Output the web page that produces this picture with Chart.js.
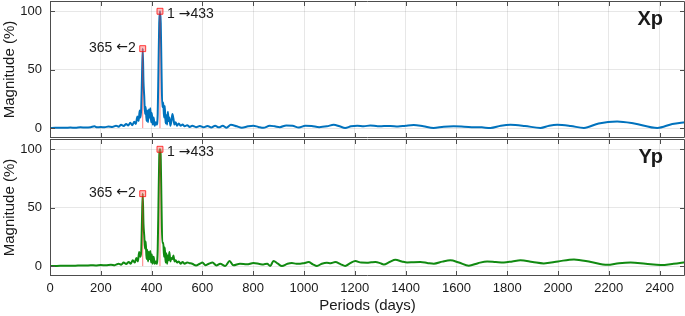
<!DOCTYPE html>
<html>
<head>
<meta charset="utf-8">
<script src="https://cdn.jsdelivr.net/npm/chart.js@4/dist/chart.umd.min.js"></script>
<style>
  html, body { margin: 0; padding: 0; background: #fff; }
  #wrap { position: relative; width: 685px; height: 316px; }
  canvas { position: absolute; left: 0; }
  #xpChart { top: 0; }
  #ypChart { top: 138px; }
</style>
</head>
<body>
<div id="wrap">
  <canvas id="xpChart" width="685" height="139"></canvas>
  <canvas id="ypChart" width="685" height="178"></canvas>
</div>
<script>
// tick labels
const xTicks = [0, 200, 400, 600, 800, 1000, 1200, 1400, 1600, 1800, 2000, 2200, 2400];
const yTicks = [0, 50, 100];

// Xp spectrum (period in days, magnitude in %)
const xpPeriods = [0, 20, 40, 60, 80, 100, 120, 140, 160, 175, 185, 200, 215, 230, 245, 260, 270, 280, 290, 300,
  308, 316, 324, 332, 338, 344, 349, 353, 356, 359, 362, 365, 368, 371, 374, 377, 380, 383, 386, 389, 392,
  395, 398, 401, 404, 408, 412, 416, 420, 424, 427, 430, 433, 436, 439, 442, 446, 449, 452, 455, 458, 461,
  464, 467, 470, 474, 478, 482, 486, 490, 495, 500, 507, 514, 522, 530, 540, 550, 560, 575, 590, 605,
  620, 635, 650, 665, 680, 695, 712, 735, 755, 780, 800, 820, 840, 865, 885, 905, 930, 955, 980, 1005,
  1030, 1060, 1090, 1117, 1140, 1162, 1185, 1210, 1235, 1261, 1290, 1315, 1340, 1370, 1400, 1432, 1470, 1510, 1550, 1589,
  1630, 1668, 1700, 1734, 1775, 1813, 1870, 1931, 1965, 1997, 2050, 2102, 2160, 2233, 2300, 2391, 2450, 2502];
const xpMag = [0, 0.2, 0.3, 0.2, 0.4, 0.3, 0.6, 0.5, 0.8, 1.5, 0.6, 0.9, 0.7, 1.3, 1.0, 2.0, 1.2, 2.8, 1.8, 3.5,
  2.2, 4.5, 2.5, 5.5, 3.5, 10, 6, 15, 9, 16, 42, 68, 40, 27, 12, 18, 6, 15, 5, 16, 9,
  17, 5, 13, 3, 9, 2, 5, 3, 12, 50, 90, 100, 90, 50, 18, 22, 9, 19, 4, 11, 3,
  14, 6, 9, 2, 6, 12, 8, 3, 5, 2, 4, 2, 3, 1.5, 2.5, 1, 2, 0.8, 1.8, 0.6,
  1.8, 0.5, 2, 0.6, 2, 0.3, 2.8, 1.5, 0.3, 1.5, 2, 1, 0.2, 2, 1.5, 0.8, 2.3, 2, 0.5, 2,
  1.8, 0.8, 1.5, 2.8, 1.5, 0.1, 1.5, 2, 1.5, 2.3, 1.5, 1.7, 1.8, 1.3, 2, 2.6, 1.5, 0.1, 1.2, 1.5,
  1.2, 0.8, 0.6, 0.1, 2, 2.8, 1.8, 0.1, 2, 2.8, 1.8, 0.1, 4, 5.7, 4, 0.1, 3.5, 5.1];

// Yp spectrum
const ypPeriods = [0, 20, 40, 60, 80, 100, 120, 140, 160, 180, 200, 220, 240, 255, 270, 280, 290, 300, 310, 318,
  326, 334, 340, 346, 351, 355, 359, 362, 365, 368, 371, 374, 377, 380, 383, 386, 389, 392, 395, 398, 401,
  404, 408, 412, 416, 420, 424, 427, 430, 433, 436, 439, 442, 446, 449, 452, 455, 458, 461, 464, 467, 470,
  474, 478, 482, 486, 490, 495, 500, 507, 514, 522, 530, 540, 550, 560, 575, 590, 600, 612, 625, 640,
  655, 670, 690, 707, 722, 748, 775, 801, 825, 840, 855, 867, 880, 897, 913, 935, 952, 970, 985, 1000,
  1018, 1035, 1051, 1070, 1090, 1105, 1123, 1145, 1162, 1182, 1202, 1225, 1248, 1265, 1281, 1300, 1314, 1337, 1360, 1385,
  1406, 1432, 1458, 1485, 1511, 1545, 1576, 1610, 1649, 1685, 1721, 1755, 1787, 1820, 1852, 1900, 1944, 2000, 2063, 2130,
  2194, 2240, 2286, 2345, 2404, 2455, 2502];
const ypMag = [0, 0.1, 0.2, 0.2, 0.3, 0.3, 0.5, 0.4, 0.7, 0.5, 0.9, 0.7, 1.2, 0.8, 2, 1.2, 3, 1.8, 3.5, 2,
  5, 3, 7, 4, 12, 8, 12, 38, 62, 36, 26, 15, 21, 6, 14, 4, 12, 6, 13, 3, 10,
  2, 8, 2, 4, 2, 14, 52, 92, 100, 92, 52, 20, 20, 8, 16, 3, 11, 2, 9, 5, 12,
  4, 7, 6, 9, 4, 5, 3, 4, 2, 3.5, 2, 3, 2.5, 2, 0.5, 2, 3, 0.8, 2, 3,
  0.5, 2, 0.1, 4.3, 0.6, 2, 1.5, 2.6, 1.8, 1.4, 2, 0.1, 4.3, 2, 0.1, 2, 2.6, 2, 2, 2.5,
  3.4, 1.5, 0.1, 2, 2.9, 2.5, 3.4, 1.5, 0.1, 2.5, 4.3, 3, 2.9, 3.2, 3.4, 2.5, 1.4, 3.5, 5.4, 4,
  3.1, 3.3, 3.4, 2.7, 2, 3.8, 4.9, 3, 0.3, 2.5, 4, 3.5, 3.1, 4, 4.9, 3.5, 2.3, 4, 5.7, 3.5,
  1.1, 2.5, 3.1, 2, 0.9, 2, 3.4];

// marked peaks: period (days); label pieces "365 <-2" and "1 ->433"
const peakPeriods = [365, 433];
const peakTexts = [["365 ", "\u2190", "2"], ["1 ", "\u2192", "433"]];
const xpPeakMag = [68, 100];
const ypPeakMag = [62, 100];

const FONT = '"Liberation Sans", Arial, Helvetica, sans-serif';
const ARROW_FONT = '"DejaVu Sans", sans-serif';
const TEXT_COLOR = '#1a1a1a';
const AXIS_COLOR = '#4d4d4d';
const GRID_COLOR = 'rgba(38,38,38,0.11)';

// draws "text arrow text" with the arrow in a font that has a long arrow glyph
function drawPeakLabel(ctx, parts, x, y, alignRight) {
    const fonts = ['14px ' + FONT, '14px ' + ARROW_FONT, '14px ' + FONT];
    let widths = parts.map((t, i) => { ctx.font = fonts[i]; return ctx.measureText(t).width; });
    let total = widths.reduce((s, w) => s + w, 0);
    let cx = alignRight ? x - total : x;
    ctx.textAlign = 'left';
    parts.forEach((t, i) => {
        ctx.font = fonts[i];
        ctx.fillText(t, cx, y);
        cx += widths[i];
    });
}

const framePlugin = {
    id: 'frame',
    afterDatasetsDraw(chart, args, opts) {
        const { ctx, chartArea: a, scales: { x, y } } = chart;
        const tl = 5;
        ctx.save();
        ctx.strokeStyle = AXIS_COLOR;
        ctx.lineWidth = 1;
        ctx.beginPath();
        ctx.rect(a.left + 0.5, a.top + 0.5, a.right - a.left - 1, a.bottom - a.top - 1);
        xTicks.forEach(v => {
            const px = Math.round(x.getPixelForValue(v)) + 0.5;
            ctx.moveTo(px, a.bottom); ctx.lineTo(px, a.bottom - tl);
            ctx.moveTo(px, a.top); ctx.lineTo(px, a.top + tl);
        });
        yTicks.forEach(v => {
            const py = Math.round(y.getPixelForValue(v)) + 0.5;
            ctx.moveTo(a.left, py); ctx.lineTo(a.left + tl, py);
            ctx.moveTo(a.right, py); ctx.lineTo(a.right - tl, py);
        });
        ctx.stroke();

        // peak labels
        ctx.fillStyle = TEXT_COLOR;
        ctx.textBaseline = 'middle';
        opts.peaks.forEach((v, i) => {
            const px = x.getPixelForValue(peakPeriods[i]);
            const py = y.getPixelForValue(v);
            if (i === 0) {
                drawPeakLabel(ctx, peakTexts[i], px - 7, py - 1, true);
            } else {
                drawPeakLabel(ctx, peakTexts[i], px + 7, py + 3, false);
            }
        });

        // panel name
        ctx.font = 'bold 20px ' + FONT;
        ctx.textAlign = 'right';
        ctx.fillText(opts.panelLabel, a.right - 22, a.top + 18);
        ctx.restore();
    }
};

function noPadding(scale) {
    scale.paddingTop = 0;
    scale.paddingBottom = 0;
    scale.paddingLeft = 0;
    scale.paddingRight = 0;
}

function createPanel(canvas, { periods, mags, peakMags, lineColor, panelLabel, showXAxis, xAxisHeight }) {

    const curve = periods.map((p, i) => ({ x: p, y: mags[i] }));
    const markers = peakPeriods.map((p, i) => ({ x: p, y: peakMags[i] }));
    let stems = [];
    peakPeriods.forEach((p, i) => {
        stems.push({ x: p, y: 0 }, { x: p, y: peakMags[i] }, { x: p, y: null });
    });

    const graph = new Chart(canvas, {
        type: 'line',
        data: {
            datasets: [
                {
                    label: 'peaks',
                    data: markers,
                    showLine: false,
                    pointStyle: 'rect',
                    pointRadius: 4.2,
                    pointBorderWidth: 1,
                    pointBorderColor: 'rgba(255, 0, 0, 0.75)',
                    pointBackgroundColor: 'rgba(255, 110, 110, 0.45)'
                },
                {
                    label: 'stems',
                    data: stems,
                    borderColor: 'rgba(255, 40, 40, 0.6)',
                    borderWidth: 1,
                    pointRadius: 0,
                    spanGaps: false
                },
                {
                    label: panelLabel,
                    data: curve,
                    borderColor: lineColor,
                    borderWidth: 2,
                    pointRadius: 0,
                    cubicInterpolationMode: 'monotone',
                    fill: false
                }
            ]
        },
        options: {
            responsive: false,
            animation: false,
            events: [],
            layout: {
                autoPadding: false,
                padding: { top: 1, right: 0, bottom: 0, left: 0 }
            },
            scales: {
                x: {
                    type: 'linear',
                    min: 0,
                    max: 2500,
                    afterBuildTicks: function(scale) {
                        scale.ticks = xTicks.map(v => ({ value: v }));
                    },
                    afterFit: function(scale) {
                        scale.height = xAxisHeight;
                        noPadding(scale);
                    },
                    grid: { color: GRID_COLOR, drawTicks: false },
                    border: { display: false },
                    ticks: {
                        display: showXAxis,
                        autoSkip: false,
                        maxRotation: 0,
                        padding: 5,
                        color: TEXT_COLOR,
                        font: { family: FONT, size: 13 },
                        callback: function(value) {
                            return String(value);
                        }
                    },
                    title: {
                        display: showXAxis,
                        text: 'Periods (days)',
                        color: TEXT_COLOR,
                        padding: { top: 0, bottom: 1 },
                        font: { family: FONT, size: 15 }
                    }
                },
                y: {
                    min: -8.5,
                    max: 108.8,
                    afterBuildTicks: function(scale) {
                        scale.ticks = yTicks.map(v => ({ value: v }));
                    },
                    afterFit: function(scale) {
                        scale.width = 50;
                        noPadding(scale);
                    },
                    grid: { color: GRID_COLOR, drawTicks: false },
                    border: { display: false },
                    ticks: {
                        padding: 8,
                        color: TEXT_COLOR,
                        font: { family: FONT, size: 13 },
                        callback: function(value) {
                            return String(value);
                        }
                    },
                    title: {
                        display: true,
                        text: 'Magnitude (%)',
                        color: TEXT_COLOR,
                        padding: { top: 1, bottom: 0 },
                        font: { family: FONT, size: 15 }
                    }
                }
            },
            plugins: {
                legend: { display: false },
                tooltip: { enabled: false },
                frame: { peaks: peakMags, panelLabel: panelLabel }
            }
        },
        plugins: [framePlugin]
    });

    return graph;
}

createPanel(document.getElementById('xpChart'), {
    periods: xpPeriods, mags: xpMag, peakMags: xpPeakMag,
    lineColor: '#0072BD', panelLabel: 'Xp', showXAxis: false, xAxisHeight: 1
});

createPanel(document.getElementById('ypChart'), {
    periods: ypPeriods, mags: ypMag, peakMags: ypPeakMag,
    lineColor: '#118a11', panelLabel: 'Yp', showXAxis: true, xAxisHeight: 40
});
</script>
</body>
</html>
